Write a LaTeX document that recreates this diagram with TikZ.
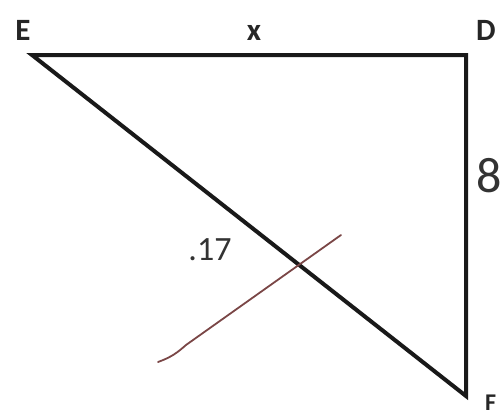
\documentclass[tikz,border=0pt]{standalone}
\usepackage{fontspec}
\setmainfont{Carlito}
\begin{document}
\begin{tikzpicture}[x=1pt,y=-1pt,
  side/.style={line width=4pt,line join=miter,black!90},
  vlabel/.style={font=\fontsize{31}{31}\selectfont\bfseries,inner sep=0pt,text=black!85},
  numlabel/.style={font=\fontsize{34}{34}\selectfont,inner sep=0pt,text=black!80},
  pen/.style={line width=1.8pt,color=black!55!red!45!gray,line cap=round}]
\useasboundingbox (0,0) rectangle (503,416);
\coordinate (E) at (32,55);
\coordinate (D) at (466,55);
\coordinate (F) at (466,396);
\draw[side] (E) -- (D) -- (F) -- cycle;
\node[vlabel] (lE) at (23,30) {E};
\node[vlabel] (lx) at (254,33) {x};
\node[vlabel] (lD) at (486,30) {D};
\node[vlabel,font=\fontsize{24}{24}\selectfont\bfseries,anchor=base west] (lF) at (485,410) {F};
\node[numlabel,font=\fontsize{50}{50}\selectfont,anchor=east] (l8) at (502,176) {8};
\node[numlabel] (l17) at (210,250) {.17};
\coordinate (p0) at (158,362);
\coordinate (p1) at (341,235);
\draw[pen] (p0) .. controls (172,357) and (178,352) .. (186,345) -- (p1);
\end{tikzpicture}
\end{document}
